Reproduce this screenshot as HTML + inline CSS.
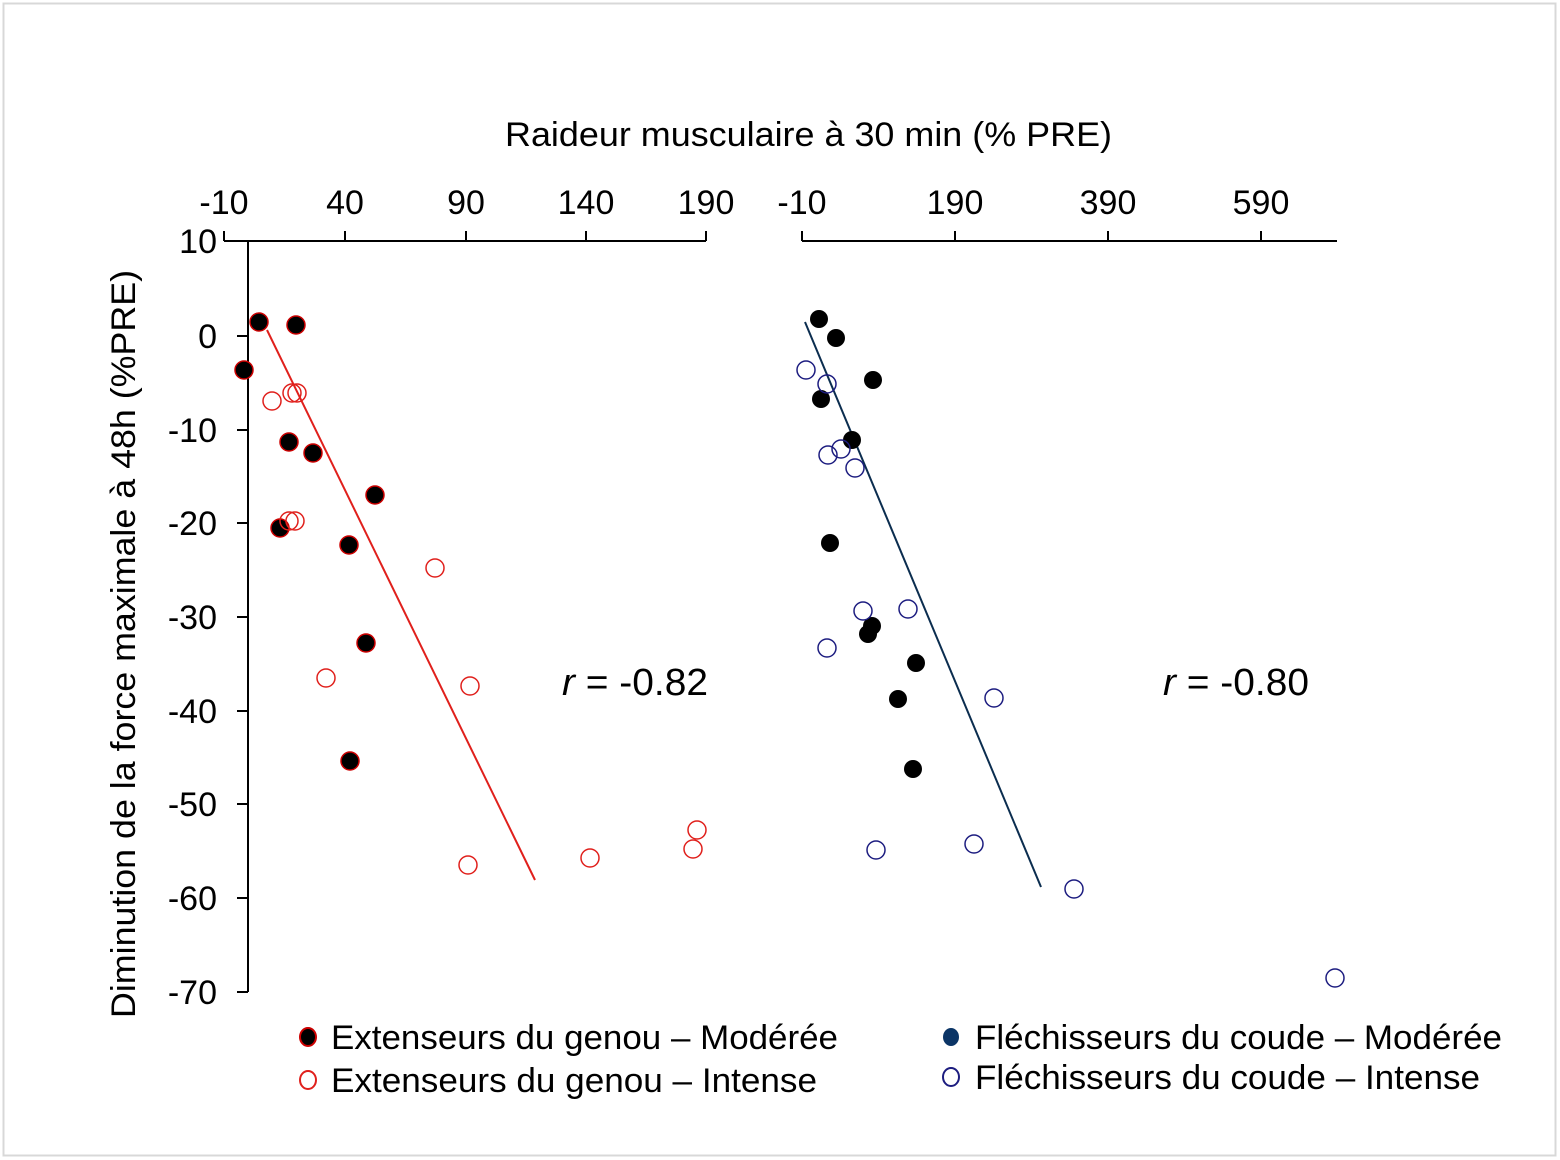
<!DOCTYPE html>
<html><head><meta charset="utf-8"><style>
html,body{margin:0;padding:0;background:#fff}
svg{display:block}
text{font-family:"Liberation Sans",Arial,sans-serif;fill:#000}
</style></head><body>
<svg width="1560" height="1160" viewBox="0 0 1560 1160">
<rect x="3.5" y="3.5" width="1552" height="1152" fill="#fff" stroke="#d8d8d8" stroke-width="2"/>
<text x="505" y="146" font-size="34" textLength="607" lengthAdjust="spacingAndGlyphs">Raideur musculaire à 30 min (% PRE)</text>
<g stroke="#000" stroke-width="2" fill="none">
<path d="M224 241H706M224 231V241M345 231V241M466 231V241M586 231V241M706 231V241"/>
<path d="M248 241V992"/>
<path d="M237 241H248M237 336H248M237 430H248M237 523H248M237 617H248M237 711H248M237 804H248M237 898H248M237 992H248"/>
<path d="M802 241H1337M802 231V241M955 231V241M1108 231V241M1261 231V241"/>
</g>
<g font-size="34" text-anchor="middle">
<text x="224" y="214">-10</text><text x="345" y="214">40</text><text x="466" y="214">90</text><text x="586" y="214">140</text><text x="706" y="214">190</text>
<text x="802" y="214">-10</text><text x="955" y="214">190</text><text x="1108" y="214">390</text><text x="1261" y="214">590</text>
</g>
<g font-size="34" text-anchor="end">
<text x="217" y="253">10</text><text x="217" y="348">0</text><text x="217" y="442">-10</text><text x="217" y="535">-20</text><text x="217" y="629">-30</text><text x="217" y="723">-40</text><text x="217" y="816">-50</text><text x="217" y="910">-60</text><text x="217" y="1004">-70</text>
</g>
<text transform="translate(135,1018) rotate(-90)" font-size="34" textLength="748" lengthAdjust="spacingAndGlyphs">Diminution de la force maximale à 48h (%PRE)</text>
<text x="562" y="695" font-size="38" textLength="146" lengthAdjust="spacingAndGlyphs"><tspan font-style="italic">r</tspan> = -0.82</text>
<text x="1163" y="695" font-size="38" textLength="146" lengthAdjust="spacingAndGlyphs"><tspan font-style="italic">r</tspan> = -0.80</text>
<line x1="267" y1="330" x2="535" y2="880" stroke="#e0201c" stroke-width="2"/>
<line x1="805" y1="322" x2="1041" y2="887" stroke="#0b2d4f" stroke-width="2"/>
<g fill="#000" stroke="#c00" stroke-width="1.5">
<circle cx="259" cy="322" r="9"/><circle cx="296" cy="325" r="9"/><circle cx="244" cy="370" r="9"/><circle cx="289" cy="442" r="9"/><circle cx="313" cy="453" r="9"/><circle cx="375" cy="495" r="9"/><circle cx="280" cy="528" r="9"/><circle cx="349" cy="545" r="9"/><circle cx="366" cy="643" r="9"/><circle cx="350" cy="761" r="9"/>
</g>
<g fill="none" stroke="#e0201c" stroke-width="1.5">
<circle cx="272" cy="401" r="9"/><circle cx="292" cy="393" r="9"/><circle cx="297" cy="393" r="9"/><circle cx="289" cy="521" r="9"/><circle cx="295" cy="521" r="9"/><circle cx="435" cy="568" r="9"/><circle cx="326" cy="678" r="9"/><circle cx="470" cy="686" r="9"/><circle cx="468" cy="865" r="9"/><circle cx="590" cy="858" r="9"/><circle cx="697" cy="830" r="9"/><circle cx="693" cy="849" r="9"/>
</g>
<g fill="#000">
<circle cx="819" cy="319" r="9"/><circle cx="836" cy="338" r="9"/><circle cx="873" cy="380" r="9"/><circle cx="821" cy="399" r="9"/><circle cx="852" cy="440" r="9"/><circle cx="830" cy="543" r="9"/><circle cx="872" cy="626" r="9"/><circle cx="868" cy="634" r="9"/><circle cx="916" cy="663" r="9"/><circle cx="898" cy="699" r="9"/><circle cx="913" cy="769" r="9"/>
</g>
<g fill="none" stroke="#1d1d80" stroke-width="1.5">
<circle cx="806" cy="370" r="9"/><circle cx="827" cy="384" r="9"/><circle cx="828" cy="455" r="9"/><circle cx="841" cy="449" r="9"/><circle cx="855" cy="468" r="9"/><circle cx="863" cy="611" r="9"/><circle cx="908" cy="609" r="9"/><circle cx="827" cy="648" r="9"/><circle cx="994" cy="698" r="9"/><circle cx="876" cy="850" r="9"/><circle cx="974" cy="844" r="9"/><circle cx="1074" cy="889" r="9"/><circle cx="1335" cy="978" r="9"/>
</g>
<ellipse cx="308" cy="1037" rx="8" ry="9" fill="#000" stroke="#c00" stroke-width="2"/>
<text x="331" y="1049" font-size="34" textLength="507" lengthAdjust="spacingAndGlyphs">Extenseurs du genou – Modérée</text>
<ellipse cx="308" cy="1080" rx="8" ry="9" fill="none" stroke="#e0201c" stroke-width="2"/>
<text x="331" y="1092" font-size="34" textLength="486" lengthAdjust="spacingAndGlyphs">Extenseurs du genou – Intense</text>
<ellipse cx="951" cy="1037" rx="8" ry="9" fill="#0b3566"/>
<text x="975" y="1049" font-size="34" textLength="527" lengthAdjust="spacingAndGlyphs">Fléchisseurs du coude – Modérée</text>
<ellipse cx="951" cy="1077" rx="8" ry="9" fill="none" stroke="#1d1d80" stroke-width="2"/>
<text x="975" y="1089" font-size="34" textLength="505" lengthAdjust="spacingAndGlyphs">Fléchisseurs du coude – Intense</text>
</svg>
</body></html>
